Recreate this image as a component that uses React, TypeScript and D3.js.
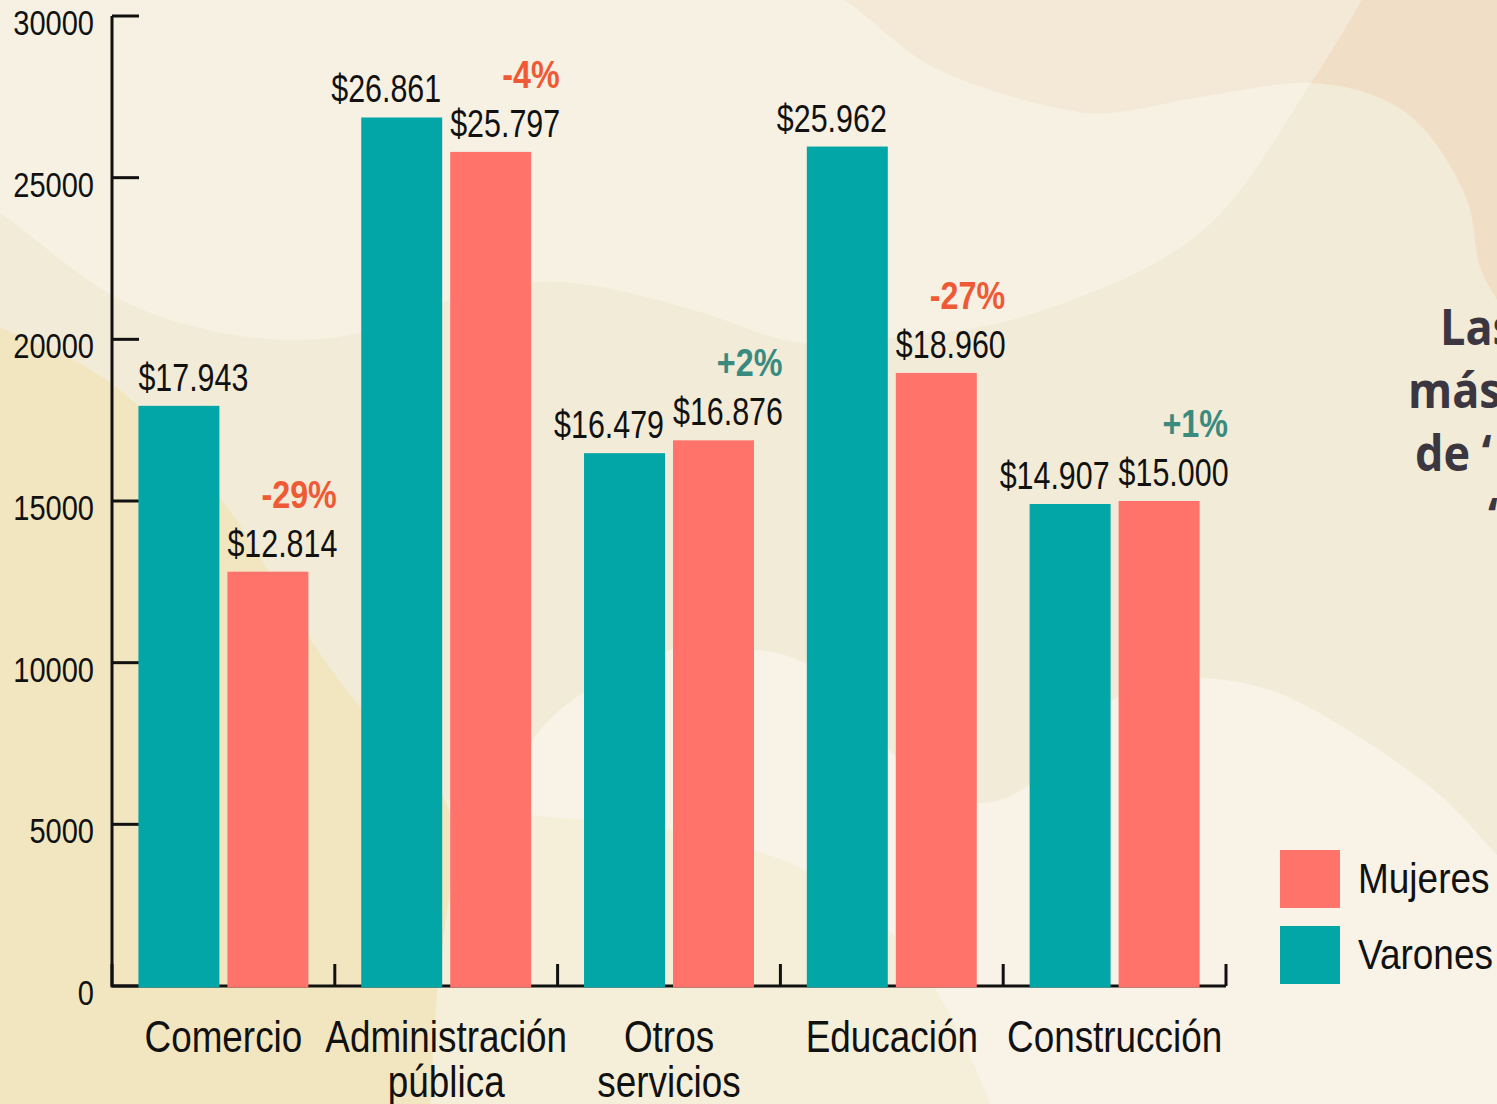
import React from "react";
import * as d3 from "d3";

// ---------- data ----------
const categories = ["Comercio", "Administración pública", "Otros servicios", "Educación", "Construcción"];
const categoryLines = [["Comercio"], ["Administración", "pública"], ["Otros", "servicios"], ["Educación"], ["Construcción"]];
const series = ["Varones", "Mujeres"];
const varones = [17943, 26861, 16479, 25962, 14907];
const mujeres = [12814, 25797, 16876, 18960, 15000];
const yTicks = [0, 5000, 10000, 15000, 20000, 25000, 30000];
const legendItems = ["Mujeres", "Varones"];
const titleLines = ["Las", "más", "de ‘", "‘"];

// ---------- style ----------
const W = 1497;
const H = 1104;
const COLORS: Record<string, string> = { Varones: "#02A6A7", Mujeres: "#FF736B" };
const NEG = "#EE5A36";
const POS = "#3A8A80";
const INK = "#111111";
const SANS = "'Liberation Sans', Arial, Helvetica, sans-serif";
const TITLE_FONT = "'Open Sans', 'Noto Sans', sans-serif";

// decorative background blobs (boundary curves)
const bgPeach: [number, number][] = [[820, -10], [844, 0], [933, 67], [1067, 110], [1111, 113], [1200, 97], [1311, 83], [1380, 98], [1422, 127], [1467, 200], [1480, 267], [1497, 300], [1515, 335]];
const bgLight: [number, number][] = [[490, 1115], [495, 850], [532, 741], [584, 692], [666, 651], [750, 649], [807, 664], [860, 715], [920, 780], [976, 803], [1023, 789], [1080, 725], [1140, 686], [1199, 678], [1276, 692], [1370, 744], [1441, 796], [1497, 855], [1520, 880]];
const bgPale: [number, number][] = [[440, 798], [532, 815], [650, 826], [760, 852], [807, 872], [901, 942], [948, 1011], [995, 1115]];
const bgYellow: [number, number][] = [[-10, 322], [0, 327], [111, 383], [222, 500], [268, 570], [330, 668], [395, 748], [445, 800], [452, 860], [443, 942], [437, 994], [430, 1115]];
const bgOverlay: [number, number][] = [[-10, 208], [0, 213], [115, 297], [200, 328], [287, 340], [364, 332], [450, 300], [536, 282], [600, 287], [700, 312], [800, 343], [900, 337], [1022, 317], [1200, 233], [1311, 83], [1362, 0], [1368, -10]];

type CTProps = {
  x: number;
  y: number;
  sx: number;
  size: number;
  anchor?: "start" | "middle" | "end";
  weight?: number;
  fill?: string;
  family?: string;
  children: React.ReactNode;
};

// condensed text: a regular sans squeezed horizontally
function CText({ x, y, sx, size, anchor = "start", weight = 400, fill = INK, family = SANS, children }: CTProps) {
  return (
    <text
      transform={`translate(${x},${y}) scale(${sx},1)`}
      textAnchor={anchor}
      fontFamily={family}
      fontSize={size}
      fontWeight={weight}
      fill={fill}
    >
      {children}
    </text>
  );
}

export default function App() {
  const x0 = d3.scaleBand<string>().domain(categories).range([112, 1226]).paddingInner(0).paddingOuter(0);
  const x1 = d3.scaleBand<string>().domain(series).range([0, x0.bandwidth()]).paddingInner(0.09).paddingOuter(0.297);
  const y = d3.scaleLinear().domain([0, 30000]).range([986, 16]);
  const locale = d3.formatLocale({ decimal: ",", thousands: ".", grouping: [3], currency: ["$", ""] });
  const fmt = locale.format("$,.0f");

  const curve = d3.line().curve(d3.curveCatmullRom.alpha(0.5));
  const peachPath = curve(bgPeach) + " L1515,-10 Z";
  const lightPath = curve(bgLight) + " L1520,1115 Z";
  const palePath = curve(bgPale) + " L430,1115 Z";
  const yellowPath = curve(bgYellow) + " L-10,1115 Z";
  const overlayPath = curve(bgOverlay) + " L-10,-10 Z";

  const values: Record<string, number[]> = { Varones: varones, Mujeres: mujeres };
  const boundaries = [...categories.map((c) => x0(c) as number), x0.range()[1]];
  const y0 = y(0);
  const titlePos: [number, number][] = [[1440, 345], [1408, 408], [1415, 471], [1488, 534]];

  return (
    <div style={{ position: "absolute", left: 0, top: 0 }}>
      <svg width={W} height={H} viewBox={`0 0 ${W} ${H}`} style={{ display: "block" }}>
        {/* background */}
        <rect x={0} y={0} width={W} height={H} fill="#F2EBD7" />
        <path d={peachPath} fill="#F0DFC6" />
        <path d={lightPath} fill="#F8F2E7" />
        <path d={palePath} fill="#F5EFDA" />
        <path d={yellowPath} fill="#F2E6C0" />
        <path d={overlayPath} fill="#FFFFFF" fillOpacity={0.3} />

        {/* title fragment (cut by the edge) */}
        {titleLines.map((t, i) => (
          <CText key={"tt" + i} x={titlePos[i][0]} y={titlePos[i][1]} sx={0.9} size={50} weight={700} fill="#3B3640" family={TITLE_FONT}>
            {t}
          </CText>
        ))}

        {/* axes */}
        <path d={`M112,${y(30000)} V${y0} H${x0.range()[1]}`} fill="none" stroke={INK} strokeWidth={3} />
        {yTicks.map((t) => (
          <line key={"yt" + t} x1={112} x2={139} y1={y(t)} y2={y(t)} stroke={INK} strokeWidth={3} />
        ))}
        {boundaries.map((b, i) => (
          <line key={"xt" + i} x1={b} x2={b} y1={y0} y2={y0 - 22} stroke={INK} strokeWidth={3} />
        ))}
        {yTicks.map((t) => (
          <CText key={"yl" + t} x={94} y={y(t) + 19} sx={0.83} size={35} anchor="end">{t}</CText>
        ))}

        {/* bars */}
        {categories.map((c, i) =>
          series.map((s) => {
            const v = values[s][i];
            const bx = (x0(c) as number) + (x1(s) as number);
            return (
              <rect key={c + s} x={bx} y={y(v)} width={x1.bandwidth()} height={y0 - y(v) + 1.5} fill={COLORS[s]} />
            );
          })
        )}

        {/* value labels */}
        {categories.map((c, i) =>
          series.map((s) => {
            const v = values[s][i];
            const bx = (x0(c) as number) + (x1(s) as number);
            const isV = s === "Varones";
            const anchorStart = !isV || i === 0;
            return (
              <CText
                key={"vl" + c + s}
                x={anchorStart ? bx : bx + x1.bandwidth() - 1}
                y={y(v) - 15}
                sx={0.78}
                size={39}
                anchor={anchorStart ? "start" : "end"}
              >
                {fmt(v)}
              </CText>
            );
          })
        )}

        {/* percentage differences */}
        {categories.map((c, i) => {
          const p = Math.round(((mujeres[i] - varones[i]) / varones[i]) * 100);
          const label = (p > 0 ? "+" : "-") + Math.abs(p) + "%";
          return (
            <CText
              key={"pc" + c}
              x={(x0(c) as number) + x0.bandwidth() + 2}
              y={y(mujeres[i]) - 15 - 49}
              sx={0.85}
              size={38}
              weight={700}
              anchor="end"
              fill={p < 0 ? NEG : POS}
            >
              {label}
            </CText>
          );
        })}

        {/* category labels */}
        {categories.map((c, i) =>
          categoryLines[i].map((ln, j) => (
            <CText key={"cl" + c + j} x={(x0(c) as number) + x0.bandwidth() / 2} y={1052 + j * 45} sx={0.82} size={45} anchor="middle">
              {ln}
            </CText>
          ))
        )}

        {/* legend */}
        {legendItems.map((s, i) => (
          <g key={"lg" + s} transform={`translate(1280, ${850 + i * 76})`}>
            <rect x={0} y={0} width={60} height={58} fill={COLORS[s]} />
            <CText x={78} y={43} sx={0.86} size={43}>{s}</CText>
          </g>
        ))}
      </svg>
    </div>
  );
}
